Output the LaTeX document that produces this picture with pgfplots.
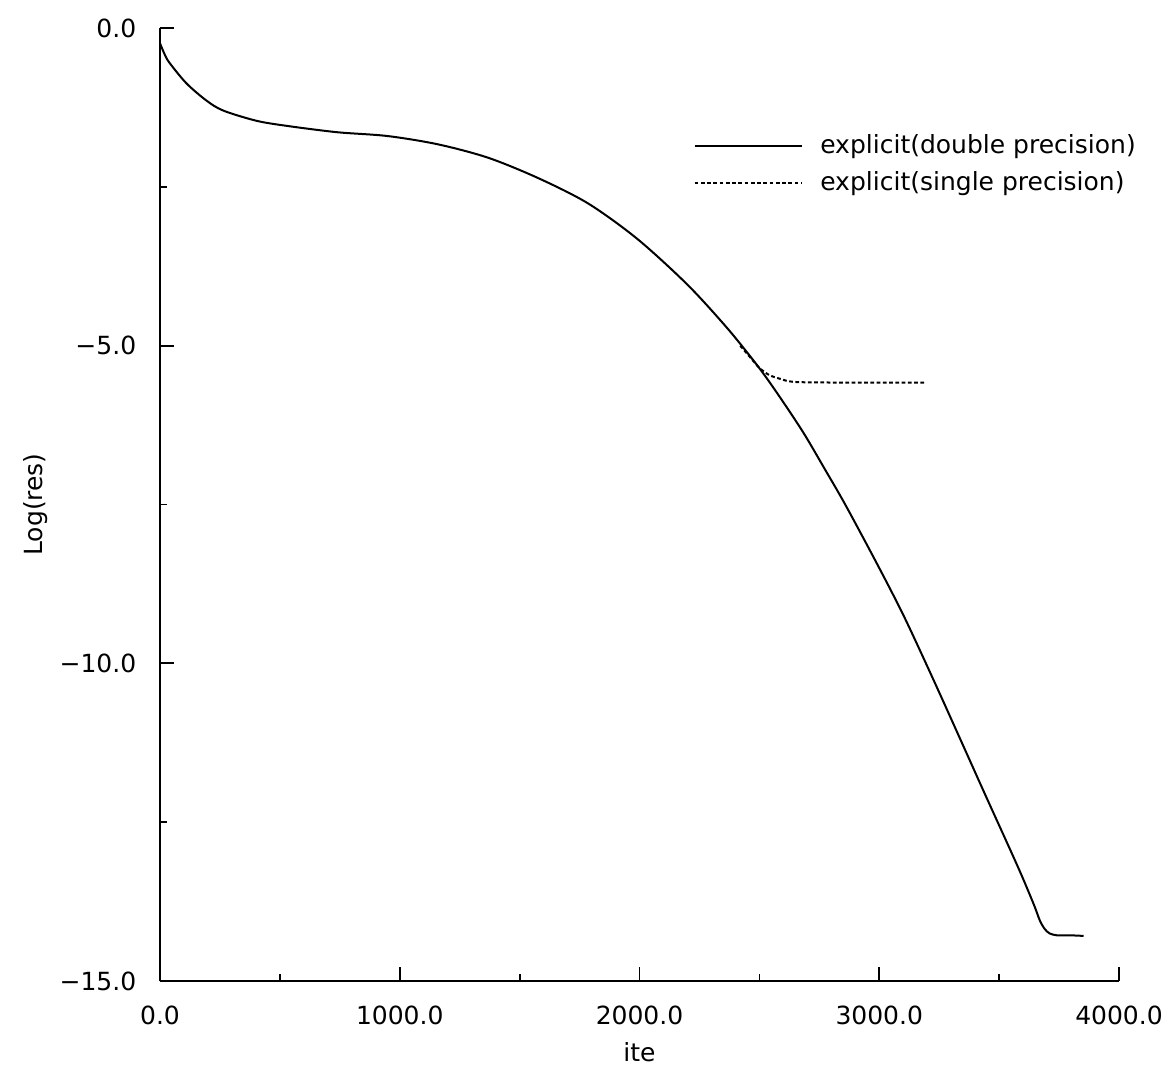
\documentclass[border=0pt]{standalone}
\usepackage{fontspec}
\setmainfont{DejaVu Sans}
\usepackage{pgfplots}
\pgfplotsset{compat=1.18}

% residual history
\pgfplotstableread{
ite res
0 -0.24
20 -0.42
40 -0.55
110 -0.87
193 -1.14
264 -1.30
402 -1.46
528 -1.54
738 -1.64
948 -1.70
1158 -1.83
1367 -2.04
1576 -2.36
1785 -2.76
1991 -3.32
2200 -4.04
2365 -4.72
2489 -5.30
2571 -5.73
2682 -6.36
2777 -6.97
2858 -7.50
2993 -8.45
3103 -9.26
3225 -10.25
3347 -11.27
3441 -12.06
3579 -13.21
3644 -13.79
3670 -14.05
3690 -14.18
3710 -14.25
3740 -14.28
3790 -14.28
3852 -14.29
}\doubleprec

\pgfplotstableread{
ite res
2420 -5.00
2470 -5.22
2500 -5.35
2540 -5.46
2585 -5.52
2643 -5.57
2800 -5.58
3000 -5.58
3190 -5.58
}\singleprec

\begin{document}
\begin{tikzpicture}
\begin{axis}[
    scale only axis,
    width=383.6pt, height=381.2pt,
    xmin=0, xmax=4000, ymin=-15, ymax=0,
    axis x line=bottom, axis y line=left,
    axis line style={-, line width=0.8pt},
    tick align=inside,
    major tick length=5.6pt, minor tick length=2.8pt,
    every tick/.style={black, line width=0.7pt},
    xtick={0,1000,2000,3000,4000},
    xticklabels={0.0,1000.0,2000.0,3000.0,4000.0},
    minor xtick={500,1500,2500,3500},
    ytick={-15,-10,-5,0},
    yticklabels={−15.0,−10.0,−5.0,0.0},
    minor ytick={-12.5,-7.5,-2.5},
    xticklabel style={yshift=-6.3pt},
    yticklabel style={xshift=-6pt},
    xlabel={ite}, ylabel={Log(res)},
    xlabel style={at={(axis description cs:0.5,-0.075)}, anchor=center},
    ylabel style={at={(axis description cs:-0.13,0.5)}, anchor=center},
    legend style={draw=none, fill=none, at={(rel axis cs:0.548,0.902)},
        anchor=north west, nodes={inner sep=2.9pt},
        /tikz/every odd column/.append style={column sep=4pt}},
    legend cell align=left,
    legend image code/.code={\draw[#1] (0pt,0pt) -- (43pt,0pt);},
    clip=false,
]
\addplot[black, line width=0.8pt, smooth, tension=0.5] table[x=ite, y=res] {\doubleprec};
\addlegendentry{explicit(double precision)}
\addplot[black, line width=0.8pt, smooth, tension=0.5, dash pattern=on 1.5pt off 1pt] table[x=ite, y=res] {\singleprec};
\addlegendentry{explicit(single precision)}
\end{axis}
\pgfresetboundingbox
\path (current axis.south west) ++(-64pt,-41.6pt) coordinate (bbsw);
\path (current axis.north east) ++(20pt,11.2pt) coordinate (bbne);
\path (bbsw) rectangle (bbne);
\end{tikzpicture}
\end{document}
